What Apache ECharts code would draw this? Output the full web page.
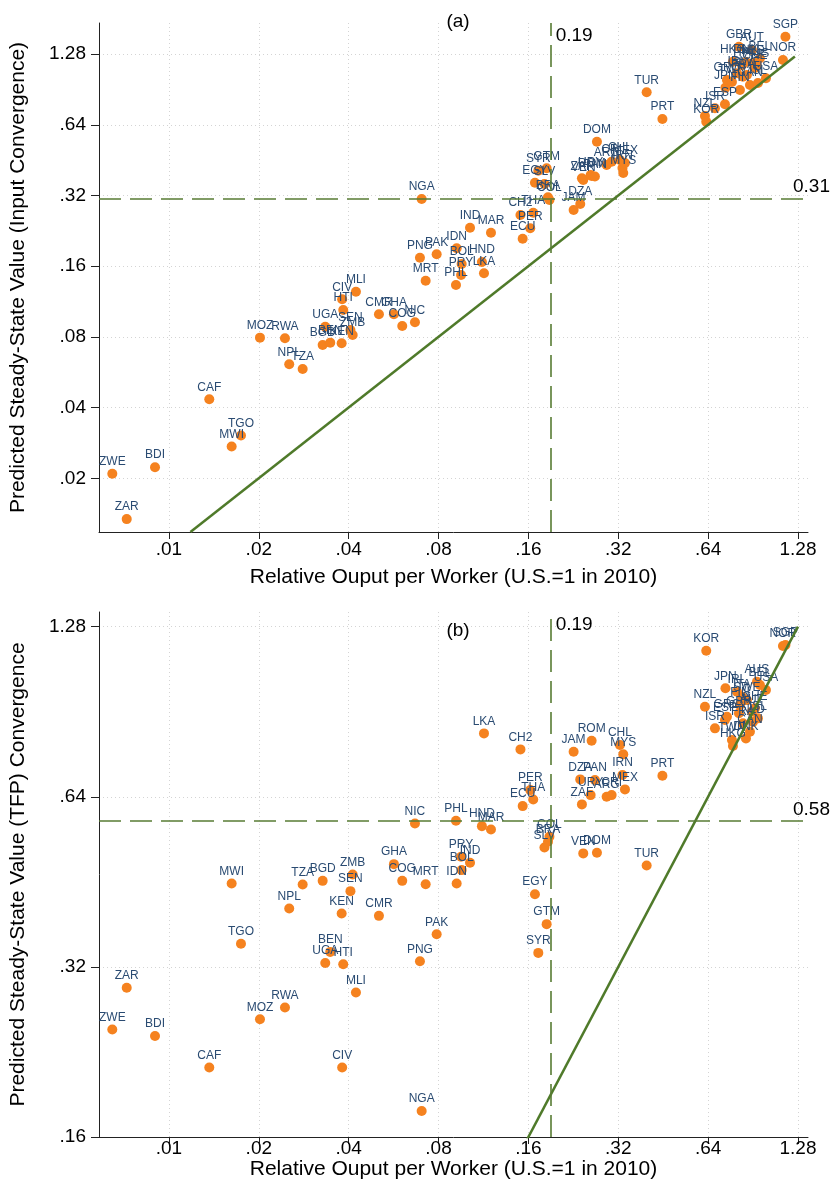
<!DOCTYPE html>
<html><head><meta charset="utf-8">
<script src="https://cdn.jsdelivr.net/npm/echarts@6/dist/echarts.min.js"></script>
<style>html,body{margin:0;padding:0;background:#fff}#c{width:831px;height:1180px}</style>
</head><body><div id="c"></div>
<script>
const countries = ['ZWE','ZAR','BDI','CAF','MWI','TGO','MOZ','RWA','NPL','TZA','BGD','UGA','BEN','KEN','CIV','HTI','SEN','ZMB','MLI','CMR','GHA','COG','NIC','PNG','NGA','MRT','PAK','PHL','IDN','BOL','PRY','IND','HND','LKA','MAR','CH2','ECU','PER','THA','EGY','SYR','SLV','GTM','BRA','COL','JAM','DZA','ZAF','VEN','URY','ROM','PAN','DOM','ARG','CRI','CHL','IRN','MYS','MEX','TUR','PRT','NZL','KOR','ISR','ESP','JPN','GRC','TWN','HKG','IRL','GBR','FIN','ITA','FRA','DNK','SWE','CAN','AUT','NLD','CHE','AUS','ISL','BEL','USA','NOR','SGP'];
// Relative output per worker (U.S.=1 in 2010)
const relOutput = [0.00646,0.00722,0.00898,0.01365,0.01622,0.01743,0.02018,0.02447,0.02529,0.02805,0.03273,0.03339,0.0347,0.03789,0.03804,0.03836,0.04055,0.04125,0.04231,0.05052,0.05671,0.06047,0.0667,0.06932,0.07024,0.07244,0.07885,0.09152,0.09201,0.09563,0.0952,0.102,0.1118,0.1136,0.1199,0.1505,0.1531,0.1623,0.1661,0.1683,0.1727,0.1811,0.1842,0.1861,0.1882,0.2268,0.2387,0.2418,0.2443,0.2586,0.2606,0.2673,0.2715,0.2926,0.3041,0.3242,0.3306,0.3326,0.337,0.3984,0.4499,0.6246,0.6309,0.6747,0.7288,0.7316,0.7401,0.7692,0.7752,0.7995,0.8119,0.8181,0.8309,0.8373,0.8569,0.8635,0.8838,0.8975,0.9044,0.9185,0.9328,0.94,0.9546,1.0,1.14,1.162];
// Panel (a): predicted steady-state value, input convergence
const ssInput = [0.0209,0.0134,0.0223,0.0434,0.0273,0.0304,0.0794,0.0789,0.0612,0.0584,0.0739,0.0884,0.0756,0.0751,0.1157,0.1042,0.0856,0.0815,0.1246,0.0998,0.0998,0.089,0.0923,0.1739,0.3092,0.1388,0.1798,0.1331,0.1907,0.1635,0.1468,0.2334,0.1667,0.1492,0.2222,0.2643,0.2095,0.232,0.2703,0.3627,0.4081,0.3581,0.4178,0.3144,0.3062,0.2776,0.2944,0.3788,0.3725,0.3912,0.3874,0.3855,0.5422,0.4315,0.4457,0.4532,0.419,0.399,0.44,0.88,0.6776,0.6978,0.6598,0.7524,0.7824,0.921,0.993,0.974,1.188,1.06,1.376,0.9,1.148,1.026,1.185,1.043,0.946,1.333,1.173,1.117,1.139,0.964,1.229,1.01,1.208,1.518];
// Panel (b): predicted steady-state value, TFP convergence
const ssTFP = [0.248,0.294,0.2415,0.2124,0.4496,0.3517,0.2585,0.2712,0.406,0.4478,0.4544,0.3252,0.3402,0.3978,0.2124,0.3235,0.4357,0.4664,0.2883,0.394,0.4864,0.4544,0.5742,0.3275,0.1779,0.4483,0.3656,0.5803,0.4496,0.4747,0.5012,0.489,0.5679,0.8287,0.5603,0.7764,0.6162,0.6577,0.6332,0.4304,0.3388,0.5207,0.3809,0.5327,0.5437,0.7689,0.687,0.6205,0.5082,0.6444,0.8042,0.6851,0.5094,0.64,0.6444,0.7902,0.6992,0.7608,0.6596,0.4838,0.6972,0.9238,1.1607,0.8459,0.875,0.9958,0.887,0.8064,0.787,0.982,0.8993,0.93,0.962,0.8633,0.812,0.949,0.834,0.905,0.868,0.918,1.023,0.881,1.009,0.989,1.183,1.188];

const xTicks = [0.01,0.02,0.04,0.08,0.16,0.32,0.64,1.28];
const xTickLabels = ['.01','.02','.04','.08','.16','.32','.64','1.28'];
const yTicksA = [0.02,0.04,0.08,0.16,0.32,0.64,1.28];
const yTickLabelsA = ['.02','.04','.08','.16','.32','.64','1.28'];
const yTicksB = [0.16,0.32,0.64,1.28];
const yTickLabelsB = ['.16','.32','.64','1.28'];
const cutoffX = 0.19;
const cutoffYA = 0.31;
const cutoffYB = 0.58;
const diagA = [0.0118, 1.25];
const diagB = [0.15, 1.28];
const xRange = [0.00583, 1.383];
const yRangeA = [0.01181, 1.736];
const yRangeB = [0.16, 1.359];

const FONT = 'Liberation Sans, Arial, Helvetica, sans-serif';
const ORANGE = '#f5821f';
const NAVY = '#2a4b72';
const GREEN = '#587c34';

function fmt(ticks, labels){
  return function(v){
    for (let i=0;i<ticks.length;i++){ if (Math.abs(Math.log(v/ticks[i]))<0.01) return labels[i]; }
    return '';
  };
}
function pts(ys){ return countries.map((c,i)=>({name:c, value:[relOutput[i], ys[i]]})); }
const gridStyle = {color:'#d4d4d4', width:1, type:[1,3]};

function xAxisFor(g, margin, gap){
  return {type:'log', logBase:2, gridIndex:g, min:xRange[0], max:xRange[1],
    axisLine:{show:true, onZero:false, lineStyle:{color:'#222', width:1}},
    axisTick:{show:true, customValues:xTicks, length:7, lineStyle:{color:'#222'}},
    axisLabel:{customValues:xTicks, formatter:fmt(xTicks,xTickLabels), fontSize:19, color:'#000', margin:margin, fontFamily:FONT},
    minorTick:{show:false}, minorSplitLine:{show:false},
    splitLine:{show:true, lineStyle:gridStyle},
    name:'Relative Ouput per Worker (U.S.=1 in 2010)', nameLocation:'middle', nameGap:gap,
    nameTextStyle:{fontSize:21, color:'#000', fontFamily:FONT}};
}
function yAxisFor(g, range, ticks, labels, name){
  return {type:'log', logBase:2, gridIndex:g, min:range[0], max:range[1],
    axisLine:{show:true, onZero:false, lineStyle:{color:'#222', width:1}},
    axisTick:{show:true, customValues:ticks, length:8, lineStyle:{color:'#222'}},
    axisLabel:{customValues:ticks, formatter:fmt(ticks,labels), fontSize:19, color:'#000', margin:13, fontFamily:FONT},
    minorTick:{show:false}, minorSplitLine:{show:false},
    splitLine:{show:true, lineStyle:gridStyle},
    name:name, nameLocation:'middle', nameGap:70, nameRotate:90,
    nameTextStyle:{fontSize:21, color:'#000', fontFamily:FONT}};
}
function scatterFor(g, ys, cutY){
  return {type:'scatter', xAxisIndex:g, yAxisIndex:g, data:pts(ys), symbolSize:10, z:3,
    itemStyle:{color:ORANGE, opacity:1},
    label:{show:true, position:'top', distance:1, formatter:'{b}', fontSize:12, color:NAVY, fontFamily:FONT},
    markLine:{silent:true, symbol:'none', animation:false, label:{show:false},
      lineStyle:{color:GREEN, width:1.6, type:[22,9]},
      data:[{xAxis:cutoffX},{yAxis:cutY}]}};
}
function diagFor(g, d){
  return {type:'line', xAxisIndex:g, yAxisIndex:g, data:[[d[0],d[0]],[d[1],d[1]]], showSymbol:false, symbol:'none',
    lineStyle:{color:'#4f7a2a', width:2.5}, z:4, silent:true, clip:true};
}

const chart = echarts.init(document.getElementById('c'));
const option = {
  animation:false, backgroundColor:'#fff', textStyle:{fontFamily:FONT},
  title:[
    {text:'(a)', left:453, top:7, textAlign:'center', textStyle:{fontSize:19, fontWeight:'normal', color:'#000', fontFamily:FONT}},
    {text:'(b)', left:453, top:616, textAlign:'center', textStyle:{fontSize:19, fontWeight:'normal', color:'#000', fontFamily:FONT}}
  ],
  grid:[
    {left:99, top:23, width:709, height:509, containLabel:false, outerBoundsMode:'none'},
    {left:99, top:612, width:709, height:525, containLabel:false, outerBoundsMode:'none'}
  ],
  xAxis:[xAxisFor(0, 8, 35), xAxisFor(1, 2, 21)],
  yAxis:[
    yAxisFor(0, yRangeA, yTicksA, yTickLabelsA, 'Predicted Steady-State Value (Input Convergence)'),
    yAxisFor(1, yRangeB, yTicksB, yTickLabelsB, 'Predicted Steady-State Value (TFP) Convergence')
  ],
  series:[scatterFor(0, ssInput, cutoffYA), diagFor(0, diagA), scatterFor(1, ssTFP, cutoffYB), diagFor(1, diagB)]
};
chart.setOption(option);

function lineLabels(g, range, cutY){
  const top = chart.convertToPixel({xAxisIndex:g, yAxisIndex:g}, [cutoffX, range[1]]);
  const right = chart.convertToPixel({xAxisIndex:g, yAxisIndex:g}, [xRange[1], cutY]);
  return [
    {type:'text', x:top[0]+5, y:top[1]+3, style:{text:cutoffX.toFixed(2), fontSize:19, fill:'#000', fontFamily:FONT, textVerticalAlign:'top'}},
    {type:'text', x:830, y:right[1]-2, style:{text:cutY.toFixed(2), fontSize:19, fill:'#000', fontFamily:FONT, textAlign:'right', textVerticalAlign:'bottom'}}
  ];
}
chart.setOption({graphic: lineLabels(0, yRangeA, cutoffYA).concat(lineLabels(1, yRangeB, cutoffYB))});
</script></body></html>
